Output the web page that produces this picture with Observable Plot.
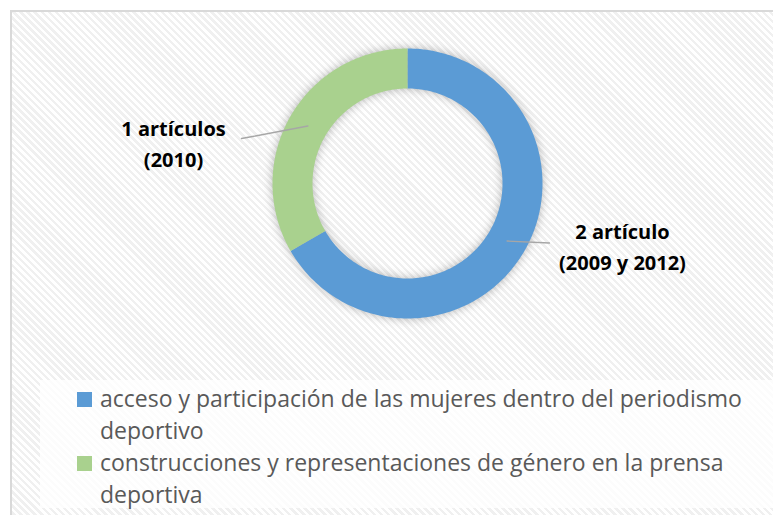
<!DOCTYPE html>
<html>
<head>
<meta charset="utf-8">
<script src="https://cdn.jsdelivr.net/npm/d3@7"></script>
<script src="https://cdn.jsdelivr.net/npm/@observablehq/plot@0.6"></script>
<style>
  html, body { margin: 0; padding: 0; width: 773px; height: 515px; overflow: hidden; background: #fff; }
  #frame {
    position: absolute; left: 10px; top: 10px; width: 800px; height: 520px;
    border-left: 2px solid #d9d9d9; border-top: 2px solid #d9d9d9;
    background: repeating-linear-gradient(45deg, #ffffff 0px, #ffffff 2.5px, #f0f0f0 2.5px, #f0f0f0 5px);
  }
  #chart { position: absolute; left: 0; top: 0; }
  #legend {
    position: absolute; left: 40px; top: 380px; width: 733px; height: 128px;
    background: rgba(255,255,255,0.8);
    font-family: "Open Sans", sans-serif; font-size: 23px; color: #595959;
  }
  .item { position: absolute; left: 60px; width: 680px; line-height: 32px; }
  .sw { position: absolute; left: -23px; top: 10px; width: 15px; height: 15px; }
</style>
</head>
<body>
<div id="frame"></div>
<div id="chart"></div>
<div id="legend"></div>
<script>
const categories = [
  "acceso y participación de las mujeres dentro del periodismo deportivo",
  "construcciones y representaciones de género en la prensa deportiva"
];
const values = [2, 1];
const labels = ["2 artículo\n(2009 y 2012)", "1 artículos\n(2010)"];
const colors = ["#5B9BD5", "#A9D18E"];

// ring geometry (unit = px)
const R_OUT = 135, R_IN = 95, R_MID = 115;
const arcs = d3.pie().sort(null).value(d => d)(values);
const ringPts = [];
arcs.forEach((a, i) => {
  const n = 180;
  for (let k = 0; k <= n; k++) {
    const t = a.startAngle + (a.endAngle - a.startAngle) * k / n;
    ringPts.push({cat: categories[i], x: R_OUT * Math.sin(t), y: R_OUT * Math.cos(t)});
  }
  for (let k = n; k >= 0; k--) {
    const t = a.startAngle + (a.endAngle - a.startAngle) * k / n;
    ringPts.push({cat: categories[i], x: R_IN * Math.sin(t), y: R_IN * Math.cos(t)});
  }
});
const centroid = a => {
  const t = (a.startAngle + a.endAngle) / 2;
  return [R_MID * Math.sin(t), R_MID * Math.cos(t)];
};
const cB = centroid(arcs[0]), cG = centroid(arcs[1]);
const leaders = [
  {id: 0, x: cB[0], y: cB[1]}, {id: 0, x: 142, y: cB[1] - 2},
  {id: 1, x: cG[0], y: cG[1]}, {id: 1, x: -155, y: 47}, {id: 1, x: -166, y: 45}
];
const labelRows = [
  {text: labels[0], x: 215, y: -61},
  {text: labels[1], x: -234, y: 42}
];

const W = 773, H = 375, CX = 407, CY = 183;
const chart = Plot.plot({
  width: W, height: H,
  margin: 0,
  x: {domain: [-CX, W - CX], axis: null},
  y: {domain: [CY - H, CY], axis: null},
  color: {domain: categories, range: colors},
  style: {background: "transparent", overflow: "visible"},
  marks: [
    Plot.line(ringPts, {x: "x", y: "y", z: "cat", fill: "cat", stroke: "none", curve: "linear-closed"}),
    Plot.line(leaders, {x: "x", y: "y", z: "id", stroke: "#a6a6a6", strokeWidth: 1.3}),
    Plot.text(labelRows, {x: "x", y: "y", text: "text", fontSize: 20, fontWeight: "bold",
      fontFamily: "'Open Sans', sans-serif", fill: "#000", lineHeight: 31 / 20, textAnchor: "middle"})
  ]
});
d3.select(chart).select('g[aria-label="line"]').style("filter", "drop-shadow(0 0 5px rgba(0,0,0,0.28))");
document.getElementById("chart").appendChild(chart);

const legend = document.getElementById("legend");
categories.forEach((c, i) => {
  const it = document.createElement("div");
  it.className = "item";
  it.style.top = (i * 64 + 2) + "px";
  const sw = document.createElement("span");
  sw.className = "sw";
  sw.style.background = colors[i];
  it.appendChild(sw);
  it.appendChild(document.createTextNode(c));
  legend.appendChild(it);
});
</script>
</body>
</html>
